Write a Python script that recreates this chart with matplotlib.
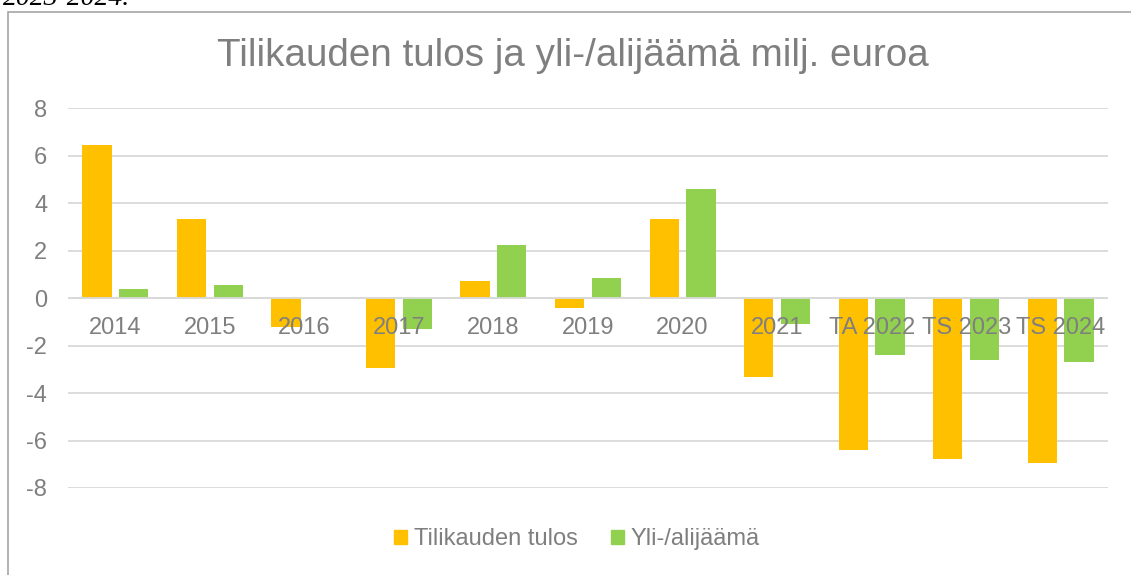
import matplotlib
matplotlib.use("Agg")
import matplotlib.pyplot as plt
from matplotlib.patches import Rectangle, Patch
import numpy as np

categories = ["2014", "2015", "2016", "2017", "2018", "2019", "2020", "2021",
              "TA 2022", "TS 2023", "TS 2024"]
tilikauden_tulos = [6.45, 3.32, -1.2, -2.95, 0.72, -0.42, 3.34, -3.31, -6.38, -6.79, -6.95]
yli_alijaama = [0.38, 0.55, 0.0, -1.31, 2.25, 0.85, 4.57, -1.09, -2.41, -2.61, -2.71]
yticks = [-8, -6, -4, -2, 0, 2, 4, 6, 8]

title = "Tilikauden tulos ja yli-/alijäämä milj. euroa"
series_names = ["Tilikauden tulos", "Yli-/alijäämä"]
c_orange = "#FFC000"
c_green = "#92D050"
txt = "#7f7f7f"

plt.rcParams["font.family"] = ["Liberation Sans", "DejaVu Sans"]

W, H = 1131, 575
fig = plt.figure(figsize=(W / 100, H / 100), dpi=100)

# outer frame
fig.patches.append(Rectangle((7.5 / W, -0.05), 1.2, 1 - 12 / H + 0.05,
                             transform=fig.transFigure, fill=False,
                             edgecolor="#a6a6a6", lw=1.2))
fig.text(3 / W, 1 - 5 / H, "2023-2024.", fontsize=20, style="italic",
         family=["Liberation Serif", "DejaVu Serif"], color="black",
         ha="left", va="baseline")

ax = fig.add_axes([68 / W, 1 - 488 / H, (1108 - 68) / W, (488 - 108) / H])
x = np.arange(len(categories))
bw = 0.31
off = 0.194
ax.bar(x - off, tilikauden_tulos, bw, color=c_orange, zorder=3)
ax.bar(x + off, yli_alijaama, bw, color=c_green, zorder=3)

ax.set_xlim(-0.5, len(categories) - 0.5)
ax.set_ylim(-8, 8)
ax.set_yticks(yticks)
ax.set_yticklabels([str(v) for v in yticks])
ax.tick_params(axis="y", length=0, pad=15, labelsize=17, labelcolor=txt)
ax.set_xticks([])
for s in ax.spines.values():
    s.set_visible(False)
ax.grid(axis="y", color="#d9d9d9", lw=1.3, zorder=0)
ax.axhline(0, color="#d9d9d9", lw=1.3, zorder=4)

for i, c in enumerate(categories):
    ax.annotate(c, xy=(i, 0), xytext=(0, -14), textcoords="offset points",
                ha="center", va="top", fontsize=17, color=txt, zorder=5)

fig.text(573 / W, 1 - 56 / H, title, ha="center", va="center",
         fontsize=27.8, color=txt)

handles = [Patch(color=c_orange), Patch(color=c_green)]
fig.legend(handles, series_names, loc="center", bbox_to_anchor=(577 / W, 1 - 539 / H),
           ncol=2, frameon=False, fontsize=17, labelcolor=txt,
           handlelength=0.55, handleheight=0.55, handletextpad=0.3, columnspacing=1.4)

fig.savefig("out.png", dpi=100)
